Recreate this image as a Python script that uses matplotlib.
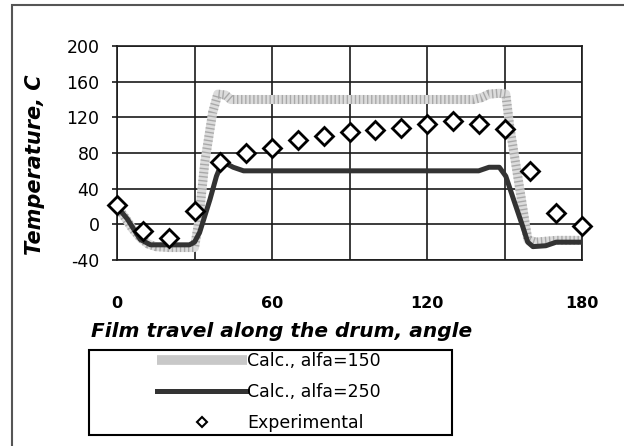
import matplotlib
matplotlib.use("Agg")
import matplotlib.pyplot as plt
from matplotlib.lines import Line2D
from matplotlib.patches import Rectangle

plt.rcParams['axes.unicode_minus'] = False

# Calculated temperature, alfa=150
x_a150 = [0, 3, 6, 9, 12, 15, 20, 25, 30, 31.5, 34, 37, 39, 42, 44, 60, 80, 100, 120, 138, 141, 144, 148, 150.5,
          152, 155.5, 159, 162, 170, 180]
t_a150 = [20, 8, -5, -15, -22, -25, -26, -26, -26, 0, 70, 125, 146, 145, 140, 140, 140, 140, 140, 140, 142, 146, 147, 146,
          110, 47, -17, -20, -18, -18]

# Calculated temperature, alfa=250
x_a250 = [0, 4, 9, 13, 20, 28, 30, 32, 36, 38.5, 40.5, 43, 45, 49, 60, 80, 100, 120, 140, 144, 148, 150.5, 153.5,
          157, 159, 161, 166, 170, 180]
t_a250 = [20, 6, -17, -23, -23, -23, -20, -9, 28, 54, 68, 67, 64, 60, 60, 60, 60, 60, 60, 64, 64, 54, 28,
          -2, -20, -25, -24, -20, -20]

# Experimental points
x_exp = [0, 10, 20, 30, 40, 50, 60, 70, 80, 90, 100, 110, 120, 130, 140, 150, 160, 170, 180]
t_exp = [22, -8, -15, 15, 70, 80, 86, 95, 99, 103, 106, 108, 113, 116, 113, 107, 60, 13, -2]

x_ticks = [0, 30, 60, 90, 120, 150, 180]
x_labels = ['0', '', '60', '', '120', '', '180']
y_ticks = [-40, 0, 40, 80, 120, 160, 200]

fig = plt.figure(figsize=(6.24, 4.46), dpi=100)
ax = fig.add_axes([117/624, 1-260/446, 465/624, 214/446])

# stippled light grey band
ax.plot(x_a150, t_a150, color='#dcdcdc', lw=6.5, solid_capstyle='butt', zorder=2)
ax.plot(x_a150, t_a150, color='#a8a8a8', lw=6.5, linestyle=(0, (0.15, 0.3)), zorder=2)
ax.plot(x_a250, t_a250, color='#333333', lw=3.6, zorder=3)
ax.plot(x_exp, t_exp, linestyle='none', marker='D', markersize=9.5, markerfacecolor='white',
        markeredgecolor='black', markeredgewidth=2, zorder=4, clip_on=False)

ax.set_xlim(0, 180)
ax.set_ylim(-40, 200)
ax.set_xticks(x_ticks)
ax.set_xticklabels(x_labels, fontweight='bold', fontsize=11.5)
ax.set_yticks(y_ticks)
ax.tick_params(axis='x', length=0, pad=26)
ax.tick_params(axis='y', length=3.6, width=1.2, pad=9, labelsize=12.5, color='#1a1a1a')
ax.grid(True, color='#1a1a1a', lw=1.2)
ax.set_axisbelow(True)
for s in ax.spines.values():
    s.set_color('#1a1a1a')
    s.set_linewidth(1.2)

ax.set_xlabel('Film travel along the drum, angle', fontsize=14.5, fontweight='bold', style='italic')
ax.xaxis.set_label_coords((282-117)/465, (260-322)/214)
ax.set_ylabel('Temperature, C', fontsize=15, fontweight='bold', style='italic')
ax.yaxis.set_label_coords((45-117)/465, (260-165)/214)

# legend box drawn separately
fig.patches.append(Rectangle((89/624, 1-435/446), 363/624, 85/446, transform=fig.transFigure,
                             fill=False, edgecolor='black', lw=1.5))
handles = [Line2D([], [], color='#c8c8c8', lw=7, solid_capstyle='butt'),
           Line2D([], [], color='#333333', lw=3.6),
           Line2D([], [], linestyle='none', marker='D', markersize=5, markerfacecolor='white',
                  markeredgecolor='black', markeredgewidth=1.5)]
fig.legend(handles, ['Calc., alfa=150', 'Calc., alfa=250', 'Experimental'],
           loc='center left', bbox_to_anchor=(157/624, 1-392/446), frameon=False,
           fontsize=12.5, handlelength=5.2, handletextpad=0, labelspacing=0.75,
           borderpad=0, borderaxespad=0, numpoints=1)

# outer chart frame (left and top edges visible)
fig.patches.append(Rectangle((12/624, -0.1), 1.2, 1.1 - 5/446, transform=fig.transFigure,
                             fill=False, edgecolor='#555555', lw=1.5))

fig.savefig('out.png', dpi=100)
